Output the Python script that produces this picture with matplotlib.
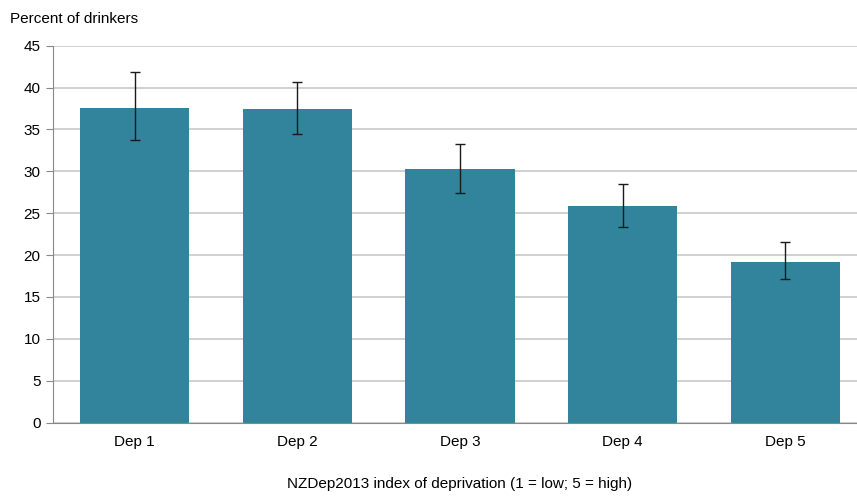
import matplotlib.pyplot as plt
import numpy as np

plt.rcParams['font.family'] = ['Liberation Sans', 'DejaVu Sans']

categories = ['Dep 1', 'Dep 2', 'Dep 3', 'Dep 4', 'Dep 5']
percent = [37.6, 37.4, 30.3, 25.8, 19.2]
ci_low = [33.7, 34.4, 27.4, 23.3, 17.2]
ci_high = [41.8, 40.6, 33.3, 28.5, 21.5]

x = np.arange(len(categories))
yerr = [np.array(percent) - np.array(ci_low), np.array(ci_high) - np.array(percent)]

fig = plt.figure(figsize=(8.57, 4.96), dpi=100)
ax = fig.add_axes([0.062, 0.148, 0.9495, 0.76])

ax.bar(x, percent, width=0.67, color='#31849B', zorder=2)
ax.errorbar(x, percent, yerr=yerr, fmt='none', ecolor='#1a1a1a',
            elinewidth=1.0, capsize=3.5, capthick=1.0, zorder=3)

ax.set_ylim(0, 45)
ax.set_xlim(-0.5, 4.5)
ax.set_yticks(range(0, 46, 5))
ax.set_xticks(x)
ax.set_xticklabels(categories)
ax.yaxis.grid(True, color='#c8c8c8', linewidth=1.2, zorder=0)
ax.set_axisbelow(True)

for side in ['top', 'right']:
    ax.spines[side].set_visible(False)
ax.spines['left'].set_color('#888888')
ax.spines['bottom'].set_color('#888888')
ax.tick_params(axis='y', length=5, color='#888888', labelsize=11, pad=4)
ax.tick_params(axis='x', length=0, labelsize=11, pad=9)

ax.set_xlabel('NZDep2013 index of deprivation (1 = low; 5 = high)', fontsize=11, labelpad=20)
fig.text(0.012, 0.962, 'Percent of drinkers', fontsize=11, ha='left', va='center')

fig.savefig('out.png', dpi=100)
